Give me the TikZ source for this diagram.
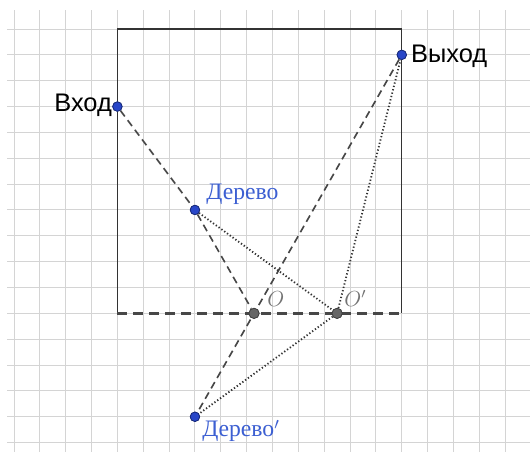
\documentclass[tikz,border=0pt]{standalone}
\usepackage{fontspec}
\newfontfamily\sansf{Liberation Sans}
\newfontfamily\seriff{Liberation Serif}
\begin{document}
\begin{tikzpicture}[x=0.5cm,y=0.5cm,
  gridline/.style={draw=black!17,line width=0.55pt},
  boxline/.style={draw=black!80,line width=0.8pt},
  wall/.style={draw=black!72,line width=1.6pt,dash pattern=on 5.5pt off 3.3pt},
  dashline/.style={draw=black!72,line width=0.9pt,dash pattern=on 4pt off 2.6pt},
  dotline/.style={draw=black!80,line width=1pt,dash pattern=on 0.7pt off 1.2pt},
  bluept/.style={circle,fill=ptblue,draw=ptblue!60!black,line width=0.4pt,inner sep=0pt,minimum size=5.2pt},
  graypt/.style={circle,fill=black!60,draw=black!75,line width=0.4pt,inner sep=0pt,minimum size=5.6pt},
  sanslab/.style={font=\sansf\fontsize{14}{16}\selectfont,text=black,inner sep=0pt},
  bluelab/.style={font=\seriff\fontsize{13}{15}\selectfont,text=labblue,inner sep=0pt},
  graylab/.style={font=\fontsize{12}{14}\selectfont,text=black!55,inner sep=0pt}
]
\definecolor{ptblue}{RGB}{40,70,200}
\definecolor{labblue}{RGB}{60,95,210}
\useasboundingbox[fill=white] (-0.5416,1.1219) rectangle (19.961,-16.325);
% grid
\draw[gridline,step=0.5cm] (-0.27,-16.4) grid (19.961,0.735);
% box
\draw[boxline] (4,-11) -- (4,0) -- (15,0) -- (15,-11);
\draw[wall] (4,-11) -- (15,-11);
% points
\node[bluept] (in) at (4,-3) {};
\node[bluept] (out) at (15,-1) {};
\node[bluept] (tree) at (7,-7) {};
\node[bluept] (treep) at (7,-15) {};
\node[graypt] (o) at (9.2857,-11) {};
\node[graypt] (op) at (12.5,-11) {};
% dashed path
\draw[dashline] (in) -- (tree);
\draw[dashline] (tree) -- (o);
\draw[dashline] (out) -- (treep);
% dotted path
\draw[dotline] (tree) -- (op);
\draw[dotline] (op) -- (out);
\draw[dotline] (op) -- (treep);
% redraw points on top
\node[bluept] at (in) {};
\node[bluept] at (out) {};
\node[bluept] at (tree) {};
\node[bluept] at (treep) {};
\node[graypt] at (o) {};
\node[graypt] at (op) {};
% labels
\node[sanslab,anchor=base east] (inlab) at (3.80,-3.21) {Вход};
\node[sanslab,anchor=base west] (outlab) at (15.35,-1.28) {Выход};
\node[bluelab,anchor=base west] (treelab) at (7.43,-6.6) {Дерево};
\node[bluelab,anchor=base west] (treeplab) at (7.27,-15.78) {Дерево$'$};
\node[graylab,anchor=base west] (olab) at (9.79,-10.75) {$O$};
\node[graylab,anchor=base west] (oplab) at (12.77,-10.75) {$O'$};
\end{tikzpicture}
\end{document}
